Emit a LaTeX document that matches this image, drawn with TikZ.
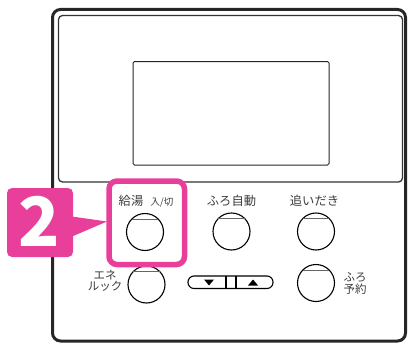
\documentclass[tikz,border=0pt]{standalone}
\usepackage{fontspec}
\setmainfont{Noto Sans CJK JP}
\newfontfamily\jpfont{Noto Sans CJK JP}
\usetikzlibrary{calc}
\definecolor{hpink}{HTML}{E8409A}
\definecolor{txtgray}{HTML}{3C3C3C}
\tikzset{
  frame/.style={draw=black!85, line width=3pt, rounded corners=8pt},
  panel/.style={draw=black!80, line width=1.3pt, rounded corners=4pt},
  btn/.style={draw=black, line width=1.1pt, circle, minimum size=37pt, inner sep=0pt},
  chord/.style={draw=black!60, line width=1.2pt},
  lbl/.style={text=txtgray, font=\jpfont\fontsize{12.3}{13}\selectfont, inner sep=0pt},
  smalllbl/.style={text=txtgray, font=\jpfont\fontsize{11.5}{13}\selectfont, inner sep=0pt, align=center},
  hilite/.style={draw=hpink, line width=5.5pt, rounded corners=8pt},
  badge/.style={fill=hpink, rounded corners=5pt},
}
\begin{document}
\begin{tikzpicture}[x=1pt,y=-1pt]
\useasboundingbox (0,0) rectangle (409,345);
% outer frame
\draw[frame] (52.5,9.5) rectangle (405.5,341);
% top panel
\draw[panel] (58.5,15.5) rectangle (402.5,182);
% display
\draw[draw=black!85, line width=1pt, rounded corners=1.5pt] (133,61.5) rectangle (329,165);
% buttons
\foreach \n/\x/\y in {kyuto/145/232, furo/231.5/231.5, oidaki/316/231.5, yoyaku/316/283, eneluk/146.5/284.5}{
  \node[btn] (\n) at (\x,\y) {};
  \draw[chord] ($(\n.center)+(-13.3,-12.8)$) -- ($(\n.center)+(13.3,-12.8)$);
}
% labels
\node[lbl, anchor=base] (l1) at (131,205) {給湯};
\node[text=txtgray, font=\jpfont\fontsize{9.5}{10}\selectfont, inner sep=0pt, anchor=base] (l1b) at (162,205) {入/切};
\node[lbl, anchor=base] (l2) at (231.5,205) {ふろ自動};
\node[lbl, anchor=base] (l3) at (314.5,205) {追いだき};
\node[smalllbl] (l4) at (355,283.5) {ふろ\\[-1.5pt]予約};
\node[smalllbl] (l5) at (105,281) {エネ\\[-1.5pt]ルック};
% pill up/down
\draw[draw=black, line width=1.1pt, rounded corners=6pt] (188,276) rectangle (273,288.5) node[pos=0.5] (pill) {};
\draw[line width=1.1pt] (226,276) -- (226,288.5) (236,276) -- (236,288.5);
\fill[black] (204,279.5) -- (214,279.5) -- (209,285.5) -- cycle;
\fill[black] (248,285.5) -- (258,285.5) -- (253,279.5) -- cycle;
% highlight
\draw[hilite] (109,181) rectangle (184.5,264.5);
% badge
\fill[hpink] (72,216.5) -- (107,221.5) -- (72,236.5) -- cycle;
\node[badge, minimum width=66pt, minimum height=69pt, inner sep=0pt] (badge) at (40,222.5) {};
\node[text=white, font=\jpfont\bfseries\fontsize{68}{68}\selectfont, inner sep=0pt] (two) at (39,221) {2};
\end{tikzpicture}
\end{document}
